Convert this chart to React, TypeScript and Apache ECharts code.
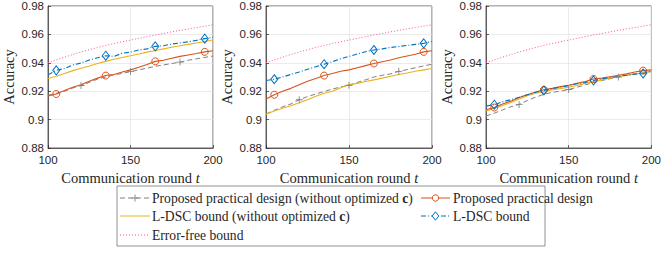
import React, { useEffect, useRef } from "react";
import * as echarts from "echarts";

const rounds = [100, 105, 110, 115, 120, 125, 130, 135, 140, 145, 150, 155, 160, 165, 170, 175, 180, 185, 190, 195, 200];

const errorFree = [0.9400, 0.9420, 0.9440, 0.9458, 0.9476, 0.9492, 0.9508, 0.9522, 0.9536, 0.9548, 0.9560, 0.9572, 0.9584, 0.9596, 0.9606, 0.9618, 0.9628, 0.9638, 0.9648, 0.9658, 0.9668];

// panel 1
const p1LDSC = [0.9315, 0.9347, 0.9360, 0.9385, 0.9398, 0.9420, 0.9435, 0.9450, 0.9445, 0.9468, 0.9475, 0.9490, 0.9498, 0.9516, 0.9520, 0.9532, 0.9540, 0.9548, 0.9558, 0.9570, 0.9580];
const p1LDSCnoC = [0.9290, 0.9305, 0.9325, 0.9345, 0.9362, 0.9378, 0.9395, 0.9410, 0.9425, 0.9437, 0.9450, 0.9462, 0.9475, 0.9487, 0.9498, 0.9510, 0.9520, 0.9530, 0.9540, 0.9550, 0.9560];
const p1Prop = [0.9167, 0.9180, 0.9205, 0.9228, 0.9245, 0.9270, 0.9292, 0.9310, 0.9318, 0.9335, 0.9350, 0.9368, 0.9388, 0.9410, 0.9418, 0.9432, 0.9445, 0.9455, 0.9465, 0.9477, 0.9485];
const p1PropNoC = [0.9170, 0.9185, 0.9200, 0.9222, 0.9240, 0.9262, 0.9285, 0.9300, 0.9315, 0.9325, 0.9338, 0.9350, 0.9362, 0.9375, 0.9385, 0.9395, 0.9405, 0.9418, 0.9428, 0.9438, 0.9448];

// panel 2
const p2LDSC = [0.9275, 0.9284, 0.9300, 0.9318, 0.9335, 0.9355, 0.9372, 0.9390, 0.9408, 0.9428, 0.9445, 0.9462, 0.9478, 0.9490, 0.9498, 0.9508, 0.9515, 0.9522, 0.9530, 0.9537, 0.9550];
const p2LDSCnoC = [0.9037, 0.9060, 0.9080, 0.9098, 0.9118, 0.9140, 0.9165, 0.9185, 0.9200, 0.9225, 0.9245, 0.9255, 0.9268, 0.9280, 0.9292, 0.9305, 0.9318, 0.9328, 0.9340, 0.9350, 0.9360];
const p2Prop = [0.9145, 0.9175, 0.9200, 0.9220, 0.9245, 0.9270, 0.9290, 0.9310, 0.9325, 0.9340, 0.9350, 0.9365, 0.9380, 0.9395, 0.9408, 0.9420, 0.9435, 0.9448, 0.9460, 0.9477, 0.9485];
const p2PropNoC = [0.9040, 0.9065, 0.9090, 0.9110, 0.9140, 0.9162, 0.9180, 0.9198, 0.9215, 0.9230, 0.9242, 0.9262, 0.9280, 0.9300, 0.9312, 0.9322, 0.9340, 0.9352, 0.9365, 0.9378, 0.9390];

// panel 3
const p3LDSC = [0.9095, 0.9105, 0.9125, 0.9140, 0.9158, 0.9175, 0.9192, 0.9205, 0.9218, 0.9228, 0.9240, 0.9252, 0.9262, 0.9275, 0.9288, 0.9295, 0.9305, 0.9312, 0.9320, 0.9325, 0.9340];
const p3LDSCnoC = [0.9060, 0.9080, 0.9100, 0.9120, 0.9145, 0.9168, 0.9185, 0.9198, 0.9210, 0.9218, 0.9228, 0.9240, 0.9255, 0.9268, 0.9280, 0.9292, 0.9302, 0.9312, 0.9322, 0.9330, 0.9340];
const p3Prop = [0.9070, 0.9085, 0.9110, 0.9130, 0.9155, 0.9175, 0.9195, 0.9210, 0.9220, 0.9232, 0.9242, 0.9255, 0.9268, 0.9286, 0.9292, 0.9302, 0.9312, 0.9322, 0.9335, 0.9345, 0.9350];
const p3PropNoC = [0.9025, 0.9045, 0.9068, 0.9090, 0.9107, 0.9135, 0.9158, 0.9178, 0.9192, 0.9200, 0.9212, 0.9228, 0.9245, 0.9260, 0.9275, 0.9288, 0.9300, 0.9312, 0.9322, 0.9330, 0.9340];

const yTicks = [0.88, 0.9, 0.92, 0.94, 0.96, 0.98];
const xTicks = [100, 150, 200];
const markerRoundsMain = [105, 135, 165, 195];
const markerRoundsPlus = [120, 150, 180];

const legendLabels = [
  "Proposed practical design (without optimized {b|c})",
  "Proposed practical design",
  "L-DSC bound (without optimized {b|c})",
  "L-DSC bound",
  "Error-free bound",
];

const C_GRAY = "#808080";
const C_ORANGE = "#D95319";
const C_YELLOW = "#EDB120";
const C_BLUE = "#0072BD";
const C_PINK = "#FF4FA0";
const PLUS = "path://M-0.12,-1H0.12V-0.12H1V0.12H0.12V1H-0.12V0.12H-1V-0.12H-0.12Z";

const panels = [
  { left: 47, propNoC: p1PropNoC, prop: p1Prop, ldscNoC: p1LDSCnoC, ldsc: p1LDSC },
  { left: 266, propNoC: p2PropNoC, prop: p2Prop, ldscNoC: p2LDSCnoC, ldsc: p2LDSC },
  { left: 486, propNoC: p3PropNoC, prop: p3Prop, ldscNoC: p3LDSCnoC, ldsc: p3LDSC },
];

const pairs = (ys: number[]) => rounds.map((t, i) => [t, ys[i]]);
const symFor = (set: number[], sym: string) => (_v: any, p: any) =>
  set.includes(rounds[p.dataIndex]) ? sym : "none";

export default function App() {
  const ref = useRef<HTMLDivElement>(null);
  useEffect(() => {
    if (!ref.current) return;
    const chart = echarts.init(ref.current, undefined, { renderer: "svg" });
    const grids: any[] = [];
    const xAxes: any[] = [];
    const yAxes: any[] = [];
    const series: any[] = [];
    panels.forEach((p, k) => {
      grids.push({
        left: p.left, top: 6, width: 166, height: 142,
        show: true, borderColor: "#262626", borderWidth: 0.7, backgroundColor: "#fff",
      });
      xAxes.push({
        type: "value", gridIndex: k, min: xTicks[0], max: xTicks[2], interval: 50,
        name: "Communication round {i|t}", nameLocation: "middle", nameGap: 19,
        nameTextStyle: {
          fontFamily: "Liberation Serif", fontSize: 14.5, color: "#262626",
          rich: { i: { fontStyle: "italic", fontFamily: "Liberation Serif", fontSize: 14.5, color: "#262626" } },
        },
        axisLine: { show: true, lineStyle: { color: "#262626", width: 0.7 } },
        axisTick: { show: true, inside: true, length: 3, lineStyle: { color: "#262626", width: 0.7 } },
        axisLabel: { fontFamily: "Liberation Sans", fontSize: 11.5, color: "#262626", margin: 6 },
        splitLine: { show: true, lineStyle: { color: "#E3E3E3", width: 0.7 } },
      });
      yAxes.push({
        type: "value", gridIndex: k, min: yTicks[0], max: yTicks[5], interval: 0.02,
        name: "Accuracy", nameLocation: "middle", nameGap: 32,
        nameTextStyle: { fontFamily: "Liberation Serif", fontSize: 14.5, color: "#262626" },
        axisLine: { show: true, lineStyle: { color: "#262626", width: 0.7 } },
        axisTick: { show: true, inside: true, length: 3, lineStyle: { color: "#262626", width: 0.7 } },
        axisLabel: {
          fontFamily: "Liberation Sans", fontSize: 11.5, color: "#262626", margin: 4,
          formatter: (v: number) => String(Number(v.toFixed(2))),
        },
        splitLine: { show: true, lineStyle: { color: "#E3E3E3", width: 0.7 } },
      });
      const base = { type: "line", xAxisIndex: k, yAxisIndex: k, showSymbol: true, symbolSize: 7, z: 3 };
      series.push({
        ...base, name: "ef" + k, data: pairs(errorFree), symbol: "none",
        lineStyle: { color: C_PINK, width: 1, type: [1, 2] },
      });
      series.push({
        ...base, name: "pnc" + k, data: pairs(p.propNoC), symbol: symFor(markerRoundsPlus, PLUS), symbolSize: 7,
        lineStyle: { color: C_GRAY, width: 1, type: [5, 3] }, itemStyle: { color: C_GRAY },
      });
      series.push({
        ...base, name: "ldncy" + k, data: pairs(p.ldscNoC), symbol: "none",
        lineStyle: { color: C_YELLOW, width: 1.1 },
      });
      series.push({
        ...base, name: "pr" + k, data: pairs(p.prop), symbol: symFor(markerRoundsMain, "circle"),
        lineStyle: { color: C_ORANGE, width: 1.1 },
        itemStyle: { color: "rgba(255,255,255,0)", borderColor: C_ORANGE, borderWidth: 1 },
      });
      series.push({
        ...base, name: "ld" + k, data: pairs(p.ldsc), symbol: symFor(markerRoundsMain, "diamond"), symbolSize: [7, 9],
        lineStyle: { color: C_BLUE, width: 1.1, type: [5, 2, 1, 2] },
        itemStyle: { color: "rgba(255,255,255,0)", borderColor: C_BLUE, borderWidth: 1 },
      });
    });

    const FS = 13.6;
    const txt = (x: number, y: number, s: string) => ({
      type: "text", x, y,
      style: {
        text: s, fontFamily: "Liberation Serif", fontSize: FS, fill: "#262626", verticalAlign: "middle",
        rich: { b: { fontWeight: "bold", fontFamily: "Liberation Serif", fontSize: FS, fill: "#262626" } },
      },
    });
    const ln = (x1: number, x2: number, y: number, color: string, dash: any) => ({
      type: "line", shape: { x1, y1: y, x2, y2: y },
      style: { stroke: color, lineWidth: 1, lineDash: dash },
    });
    const rows = [198, 216, 235];
    const graphic: any[] = [
      { type: "rect", shape: { x: 117, y: 186, width: 428, height: 60 }, style: { fill: "#fff", stroke: "#777", lineWidth: 0.8 } },
      ln(120, 150, rows[0], C_GRAY, [5, 3]),
      { type: "line", shape: { x1: 135, y1: rows[0] - 3.5, x2: 135, y2: rows[0] + 3.5 }, style: { stroke: C_GRAY, lineWidth: 0.9 } },
      { type: "line", shape: { x1: 131.5, y1: rows[0], x2: 138.5, y2: rows[0] }, style: { stroke: C_GRAY, lineWidth: 0.9 } },
      txt(152, rows[0], legendLabels[0]),
      ln(421, 450, rows[0], C_ORANGE, null),
      { type: "circle", shape: { cx: 435.5, cy: rows[0], r: 3.2 }, style: { fill: "#fff", stroke: C_ORANGE, lineWidth: 1 } },
      txt(453, rows[0], legendLabels[1]),
      ln(120, 150, rows[1], C_YELLOW, null),
      txt(152, rows[1], legendLabels[2]),
      ln(421, 450, rows[1], C_BLUE, [5, 2, 1, 2]),
      { type: "polygon", shape: { points: [[435.5, rows[1] - 4.2], [438.8, rows[1]], [435.5, rows[1] + 4.2], [432.2, rows[1]]] }, style: { fill: "#fff", stroke: C_BLUE, lineWidth: 1 } },
      txt(453, rows[1], legendLabels[3]),
      ln(120, 150, rows[2], C_PINK, [1, 2]),
      txt(152, rows[2], legendLabels[4]),
    ];

    chart.setOption({
      animation: false,
      backgroundColor: "#fff",
      grid: grids,
      xAxis: xAxes,
      yAxis: yAxes,
      series,
      graphic,
    });
    return () => chart.dispose();
  }, []);
  return <div ref={ref} style={{ width: 664, height: 253, position: "absolute", left: 0, top: 0 }} />;
}
